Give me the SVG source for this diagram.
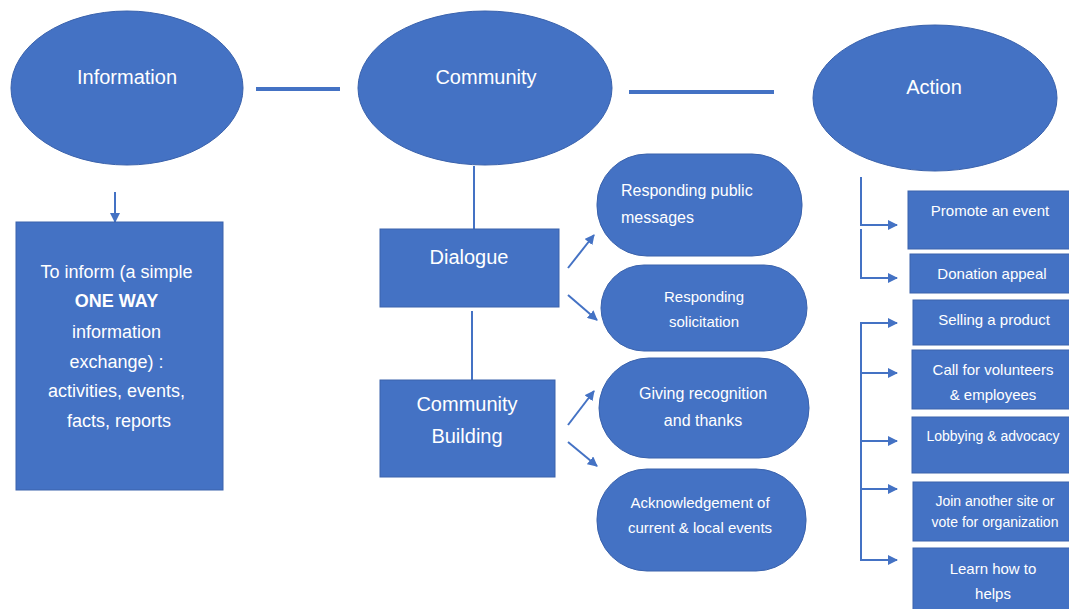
<svg xmlns="http://www.w3.org/2000/svg" width="1069" height="609" viewBox="0 0 1069 609">
<defs>
<style>
.n{fill:#4472C4;stroke:#3A62AC;stroke-width:1}
.t{fill:#FFFFFF;font-family:"Liberation Sans",Arial,sans-serif;text-anchor:middle}
.c{stroke:#4472C4;fill:none}
</style>
<marker id="ah" viewBox="0 0 10 10" refX="9" refY="5" markerWidth="10" markerHeight="10" markerUnits="userSpaceOnUse" orient="auto">
<path d="M0,0 L10,5 L0,10 z" fill="#4472C4"/>
</marker>
</defs>
<rect width="1069" height="609" fill="#FFFFFF"/>
<g id="connectors">
<line class="c" x1="256" y1="89" x2="340" y2="89" stroke-width="4"/>
<line class="c" x1="629" y1="92" x2="774" y2="92" stroke-width="4"/>
<line class="c" x1="115" y1="192" x2="115" y2="222" stroke-width="2" marker-end="url(#ah)"/>
<line class="c" x1="474" y1="166" x2="474" y2="229" stroke-width="2"/>
<line class="c" x1="472" y1="311" x2="472" y2="380" stroke-width="2"/>
<line class="c" x1="568" y1="268" x2="594" y2="235" stroke-width="2" marker-end="url(#ah)"/>
<line class="c" x1="568" y1="295" x2="597" y2="320" stroke-width="2" marker-end="url(#ah)"/>
<line class="c" x1="568" y1="425" x2="594" y2="391" stroke-width="2" marker-end="url(#ah)"/>
<line class="c" x1="568" y1="442" x2="597" y2="466" stroke-width="2" marker-end="url(#ah)"/>
<polyline class="c" points="861,177 861,225 897,225" stroke-width="2" marker-end="url(#ah)"/>
<polyline class="c" points="861,229 861,278 897,278" stroke-width="2" marker-end="url(#ah)"/>
<polyline class="c" points="861,323 861,560 897,560" stroke-width="2" marker-end="url(#ah)"/>
<line class="c" x1="860" y1="323" x2="897" y2="323" stroke-width="2" marker-end="url(#ah)"/>
<line class="c" x1="861" y1="373" x2="897" y2="373" stroke-width="2" marker-end="url(#ah)"/>
<line class="c" x1="861" y1="441" x2="897" y2="441" stroke-width="2" marker-end="url(#ah)"/>
<line class="c" x1="861" y1="489" x2="897" y2="489" stroke-width="2" marker-end="url(#ah)"/>
</g>
<g id="information">
<ellipse class="n" cx="127" cy="88" rx="116" ry="77"/>
<text class="t" x="127" y="84" font-size="20">Information</text>
</g>
<g id="community">
<ellipse class="n" cx="485" cy="88" rx="127" ry="77"/>
<text class="t" x="486" y="84" font-size="20">Community</text>
</g>
<g id="action">
<ellipse class="n" cx="935" cy="98" rx="122" ry="73"/>
<text class="t" x="934" y="94" font-size="20">Action</text>
</g>
<g id="inform">
<rect class="n" x="16" y="222" width="207" height="268"/>
<text class="t" font-size="18">
<tspan x="119" y="278">To inform (a simple</tspan>
<tspan x="119" y="307" font-weight="bold">ONE WAY</tspan>
<tspan x="119" y="338">information</tspan>
<tspan x="119" y="368">exchange) :</tspan>
<tspan x="119" y="397">activities, events,</tspan>
<tspan x="119" y="427">facts, reports</tspan>
</text>
</g>
<g id="dialogue">
<rect class="n" x="380" y="229" width="179" height="78"/>
<text class="t" x="469" y="264" font-size="20">Dialogue</text>
</g>
<g id="community-building">
<rect class="n" x="380" y="380" width="175" height="97"/>
<text class="t" font-size="20"><tspan x="467" y="411">Community</tspan><tspan x="467" y="443">Building</tspan></text>
</g>
<g id="responding-public">
<rect class="n" x="597" y="154" width="205" height="102" rx="50" ry="50"/>
<text class="t" font-size="16" style="text-anchor:start"><tspan x="621" y="196">Responding public</tspan><tspan x="621" y="223">messages</tspan></text>
</g>
<g id="responding-solicitation">
<rect class="n" x="601" y="265" width="206" height="86" rx="43" ry="43"/>
<text class="t" font-size="15"><tspan x="704" y="302">Responding</tspan><tspan x="704" y="327">solicitation</tspan></text>
</g>
<g id="giving-recognition">
<rect class="n" x="599" y="358" width="210" height="100" rx="50" ry="50"/>
<text class="t" font-size="16"><tspan x="703" y="399">Giving recognition</tspan><tspan x="703" y="426">and thanks</tspan></text>
</g>
<g id="acknowledgement">
<rect class="n" x="597" y="469" width="209" height="102" rx="50" ry="50"/>
<text class="t" font-size="15"><tspan x="700" y="508">Acknowledgement of</tspan><tspan x="700" y="533">current &amp; local events</tspan></text>
</g>
<g id="promote">
<rect class="n" x="908" y="191" width="165" height="58"/>
<text class="t" x="990" y="216" font-size="15">Promote an event</text>
</g>
<g id="donation">
<rect class="n" x="910" y="254" width="163" height="39"/>
<text class="t" x="992" y="279" font-size="15">Donation appeal</text>
</g>
<g id="selling">
<rect class="n" x="913" y="300" width="160" height="45"/>
<text class="t" x="994" y="325" font-size="15">Selling a product</text>
</g>
<g id="volunteers">
<rect class="n" x="912" y="350" width="161" height="59"/>
<text class="t" font-size="15"><tspan x="993" y="375">Call for volunteers</tspan><tspan x="993" y="400">&amp; employees</tspan></text>
</g>
<g id="lobbying">
<rect class="n" x="912" y="417" width="161" height="56"/>
<text class="t" x="993" y="441" font-size="14">Lobbying &amp; advocacy</text>
</g>
<g id="join">
<rect class="n" x="913" y="482" width="160" height="59"/>
<text class="t" font-size="14"><tspan x="995" y="506">Join another site or</tspan><tspan x="995" y="527">vote for organization</tspan></text>
</g>
<g id="learn">
<rect class="n" x="913" y="548" width="160" height="65"/>
<text class="t" font-size="15"><tspan x="993" y="574">Learn how to</tspan><tspan x="993" y="599">helps</tspan></text>
</g>
</svg>
